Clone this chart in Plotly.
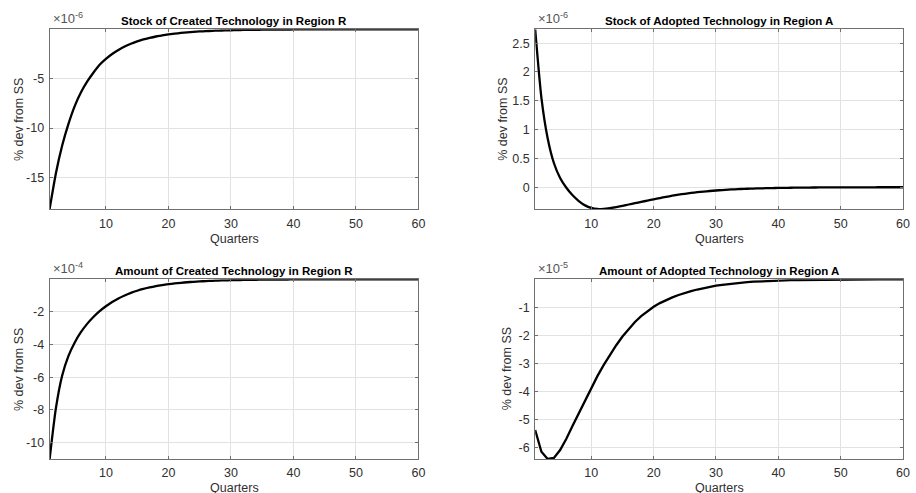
import plotly.graph_objects as go

W, H = 916, 493

quarters = list(range(1, 61))

# Impulse responses, % deviation from steady state (in units of the panel exponent)
stock_created = [
    -18.2, -14.6, -11.8, -9.6, -7.8, -6.4, -5.3, -4.4, -3.6, -3.0,
    -2.5, -2.1, -1.75, -1.47, -1.23, -1.03, -0.87, -0.73, -0.62, -0.52,
    -0.44, -0.37, -0.31, -0.26, -0.22, -0.19, -0.16, -0.13, -0.11, -0.095,
    -0.08, -0.068, -0.057, -0.048, -0.041, -0.035, -0.029, -0.025, -0.021, -0.018,
    -0.015, -0.013, -0.011, -0.009, -0.008, -0.0067, -0.0056, -0.0048, -0.004, -0.0034,
    -0.0029, -0.0024, -0.002, -0.0017, -0.0015, -0.0012, -0.001, -0.0009, -0.0007, -0.0006,
]
stock_adopted = [
    2.74, 1.55, 0.85, 0.42, 0.16, -0.01, -0.14, -0.24, -0.315, -0.36,
    -0.378, -0.375, -0.362, -0.345, -0.325, -0.30, -0.278, -0.255, -0.232, -0.21,
    -0.188, -0.167, -0.148, -0.13, -0.114, -0.1, -0.087, -0.076, -0.066, -0.057,
    -0.049, -0.042, -0.036, -0.031, -0.027, -0.023, -0.02, -0.017, -0.0145, -0.0124,
    -0.0106, -0.009, -0.0077, -0.0066, -0.0056, -0.0048, -0.0041, -0.0035, -0.003, -0.0025,
    -0.0021, -0.0018, -0.0015, -0.0013, -0.0011, -0.0009, -0.0008, -0.0007, -0.0006, -0.0005,
]
amount_created = [
    -11.0, -7.9, -5.9, -4.7, -3.88, -3.24, -2.73, -2.31, -1.95, -1.65,
    -1.39, -1.17, -0.99, -0.83, -0.70, -0.59, -0.50, -0.42, -0.355, -0.30,
    -0.255, -0.215, -0.18, -0.153, -0.13, -0.11, -0.093, -0.078, -0.066, -0.056,
    -0.047, -0.04, -0.034, -0.028, -0.024, -0.02, -0.017, -0.014, -0.012, -0.01,
    -0.0085, -0.007, -0.006, -0.005, -0.0042, -0.0036, -0.003, -0.0025, -0.0021, -0.0018,
    -0.0015, -0.0013, -0.0011, -0.0009, -0.0008, -0.0007, -0.0006, -0.0005, -0.0004, -0.0003,
]
amount_adopted = [
    -5.37, -6.14, -6.40, -6.36, -6.08, -5.68, -5.22, -4.76, -4.30, -3.86,
    -3.44, -3.05, -2.68, -2.35, -2.04, -1.76, -1.52, -1.31, -1.13, -0.98,
    -0.85, -0.74, -0.645, -0.56, -0.485, -0.42, -0.365, -0.315, -0.27, -0.23,
    -0.197, -0.168, -0.143, -0.122, -0.104, -0.088, -0.075, -0.064, -0.054, -0.046,
    -0.039, -0.033, -0.028, -0.024, -0.02, -0.017, -0.0145, -0.0123, -0.0104, -0.0088,
    -0.0075, -0.0063, -0.0054, -0.0046, -0.0039, -0.0033, -0.0028, -0.0024, -0.002, -0.0017,
]

titles = [
    "Stock of Created Technology in Region R",
    "Stock of Adopted Technology in Region A",
    "Amount of Created Technology in Region R",
    "Amount of Adopted Technology in Region A",
]
series = [stock_created, stock_adopted, amount_created, amount_adopted]
exponents = ["-6", "-6", "-4", "-5"]
y_ticks = [
    [-15, -10, -5],
    [0, 0.5, 1, 1.5, 2, 2.5],
    [-10, -8, -6, -4, -2],
    [-6, -5, -4, -3, -2, -1],
]
y_tick_labels = [
    ["-15", "-10", "-5"],
    ["0", "0.5", "1", "1.5", "2", "2.5"],
    ["-10", "-8", "-6", "-4", "-2"],
    ["-6", "-5", "-4", "-3", "-2", "-1"],
]
x_ticks = [10, 20, 30, 40, 50, 60]
y_label = "% dev from SS"
x_label = "Quarters"

# Axes boxes in pixels: (left, right, top, bottom)
boxes = [
    (50, 421.7, 29.3, 209.0),
    (539.3, 910.0, 29.3, 209.0),
    (50, 421.7, 279.3, 459.0),
    (539.3, 910.0, 279.3, 459.0),
]
ylabel_x = [19, 507.5, 19, 511]
xlabel_gap = [30.5, 30.5, 28.5, 28.5]
line_shapes = ["spline", "spline", "spline", "linear"]

FONT = "Liberation Sans, Arial, sans-serif"
TICK_COLOR = "#303030"
GRID = "#e2e2e2"
BOX = "#707070"

fig = go.Figure()
annotations = []
layout = {}

for i, (title, vals, ex, yt, box) in enumerate(zip(titles, series, exponents, y_ticks, boxes)):
    n = "" if i == 0 else str(i + 1)
    left, right, top, bottom = box
    fig.add_trace(go.Scatter(
        x=quarters, y=vals, mode="lines",
        line=dict(color="black", width=2.3, shape=line_shapes[i], smoothing=0.6),
        xaxis="x" + n, yaxis="y" + n, showlegend=False, hoverinfo="skip",
    ))
    common = dict(
        showline=True, linecolor=BOX, linewidth=1, mirror="ticks",
        ticks="inside", ticklen=3, tickcolor=BOX, tickwidth=1,
        showgrid=True, gridcolor=GRID, gridwidth=1, zeroline=False,
        tickfont=dict(family=FONT, size=12.5, color=TICK_COLOR),
    )
    layout["xaxis" + n] = dict(
        common, domain=[left / W, right / W], anchor="y" + n,
        range=[1, 60], tickvals=x_ticks,
        ticklabelstandoff=3 if i < 2 else 2,
    )
    layout["yaxis" + n] = dict(
        common, domain=[1 - bottom / H, 1 - top / H], anchor="x" + n,
        range=[min(vals), max(vals)], tickvals=yt, ticktext=y_tick_labels[i],
        ticklabelstandoff=2,
    )
    cx = (left + right) / 2
    annotations.append(dict(
        text="<b>" + title + "</b>", x=cx / W, y=1 - (top - 8) / H,
        xref="paper", yref="paper", xanchor="center", yanchor="middle",
        showarrow=False, font=dict(family=FONT, size=11.5, color="black"),
    ))
    annotations.append(dict(
        text="\u00d710<sup>" + ex + "</sup>", x=(left + 1) / W, y=1 - (top - 1) / H,
        xref="paper", yref="paper", xanchor="left", yanchor="bottom",
        showarrow=False, font=dict(family=FONT, size=13, color="#555555"),
    ))
    annotations.append(dict(
        text=x_label, x=cx / W, y=1 - (bottom + xlabel_gap[i]) / H,
        xref="paper", yref="paper", xanchor="center", yanchor="middle",
        showarrow=False, font=dict(family=FONT, size=12.5, color=TICK_COLOR),
    ))
    annotations.append(dict(
        text=y_label, x=ylabel_x[i] / W, y=1 - (top + bottom) / 2 / H,
        xref="paper", yref="paper", xanchor="center", yanchor="middle",
        textangle=-90, showarrow=False,
        font=dict(family=FONT, size=12.5, color=TICK_COLOR),
    ))

fig.update_layout(
    width=W, height=H,
    margin=dict(l=0, r=0, t=0, b=0),
    paper_bgcolor="white", plot_bgcolor="white",
    annotations=annotations,
    **layout,
)

fig.write_html("out.html", config={"displayModeBar": False})
